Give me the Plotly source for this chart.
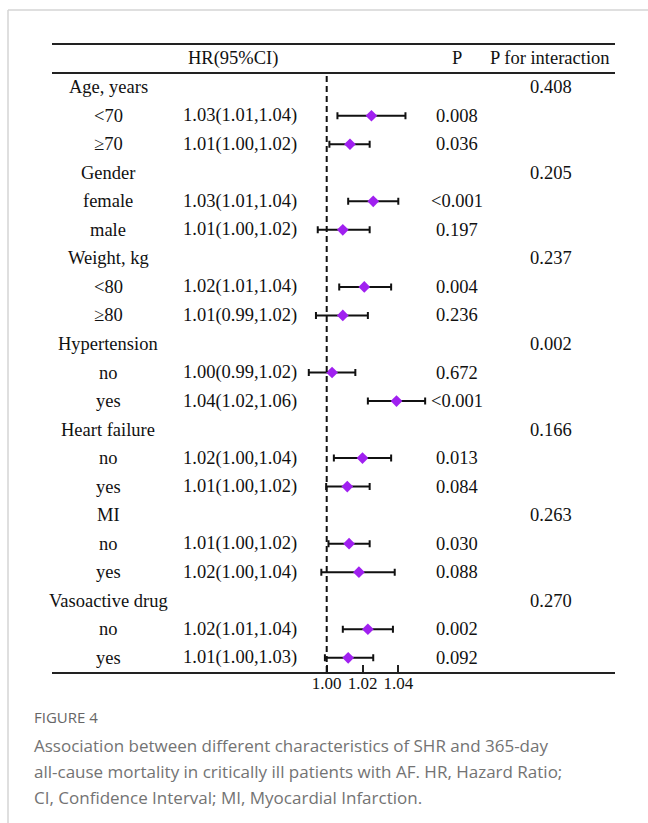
import plotly.graph_objects as go

W, H = 648, 823

# ---- data ----
row_labels = ["Age, years", "<70", "≥70", "Gender", "female", "male",
              "Weight, kg", "<80", "≥80", "Hypertension", "no", "yes",
              "Heart failure", "no", "yes", "MI", "no", "yes",
              "Vasoactive drug", "no", "yes"]
hr_text = ["", "1.03(1.01,1.04)", "1.01(1.00,1.02)", "", "1.03(1.01,1.04)", "1.01(1.00,1.02)",
           "", "1.02(1.01,1.04)", "1.01(0.99,1.02)", "", "1.00(0.99,1.02)", "1.04(1.02,1.06)",
           "", "1.02(1.00,1.04)", "1.01(1.00,1.02)", "", "1.01(1.00,1.02)", "1.02(1.00,1.04)",
           "", "1.02(1.01,1.04)", "1.01(1.00,1.03)"]
p_values = ["", "0.008", "0.036", "", "<0.001", "0.197",
            "", "0.004", "0.236", "", "0.672", "<0.001",
            "", "0.013", "0.084", "", "0.030", "0.088",
            "", "0.002", "0.092"]
p_interaction = ["0.408", "", "", "0.205", "", "",
                 "0.237", "", "", "0.002", "", "",
                 "0.166", "", "", "0.263", "", "",
                 "0.270", "", ""]
# point estimates and CI read from the drawn marks (None = header row)
hr = [None, 1.025, 1.013, None, 1.026, 1.009, None, 1.021, 1.009, None, 1.003, 1.039,
      None, 1.020, 1.0115, None, 1.0125, 1.018, None, 1.023, 1.012]
lo = [None, 1.006, 1.0015, None, 1.012, 0.995, None, 1.007, 0.994, None, 0.990, 1.023,
      None, 1.004, 0.9997, None, 1.001, 0.997, None, 1.009, 0.999]
hi = [None, 1.044, 1.024, None, 1.040, 1.024, None, 1.036, 1.023, None, 1.016, 1.055,
      None, 1.036, 1.024, None, 1.024, 1.038, None, 1.037, 1.026]
header = ["HR(95%CI)", "P", "P for interaction"]
x_ticks = [1.00, 1.02, 1.04]
x_ticklabels = ["1.00", "1.02", "1.04"]
caption_label = "FIGURE 4"
caption_lines = ["Association between different characteristics of SHR and 365-day",
                 "all-cause mortality in critically ill patients with AF. HR, Hazard Ratio;",
                 "CI, Confidence Interval; MI, Myocardial Infarction."]

# ---- layout geometry (pixels) ----
px = lambda x: x / W
py = lambda y: 1 - y / H
left_px, right_px = 52, 615
top_px, bottom_px = 44, 672
row0_px, row_step = 87.2, 28.53
ref_px, px_per_unit = 326.7, 1790.0

x_range = [1 - (ref_px - left_px) / px_per_unit, 1 + (right_px - ref_px) / px_per_unit]
y_range = [(bottom_px - row0_px) / row_step, (top_px - row0_px) / row_step]

serif = "Liberation Serif, Times New Roman, serif"
ink = "#111111"
fs = 18.5

idx = [i for i, v in enumerate(hr) if v is not None]
xs = [hr[i] for i in idx]
ys = [i for i in idx]
plus = [hi[i] - hr[i] for i in idx]
minus = [hr[i] - lo[i] for i in idx]

fig = go.Figure()
fig.add_trace(go.Scatter(
    x=xs, y=ys, mode="markers",
    marker=dict(symbol="diamond", size=9, color="#A020F0", line=dict(width=0)),
    error_x=dict(type="data", symmetric=False, array=plus, arrayminus=minus,
                 color="#111111", thickness=2, width=3.5),
    showlegend=False, hoverinfo="skip"))

shapes = []
# reference dashed line at HR = 1
shapes.append(dict(type="line", xref="x", yref="paper", x0=1.0, x1=1.0,
                   y0=py(bottom_px), y1=py(76), line=dict(color="#111111", width=2, dash="6px,4px")))
# table rules
for yy in (top_px, 73):
    shapes.append(dict(type="line", xref="paper", yref="paper", x0=px(left_px), x1=px(right_px),
                       y0=py(yy), y1=py(yy), line=dict(color="#222222", width=2)))
# page frame (top and left)
shapes.append(dict(type="line", xref="paper", yref="paper", x0=px(8), x1=1, y0=py(10), y1=py(10),
                   line=dict(color="#d4d4d4", width=1.5)))
shapes.append(dict(type="line", xref="paper", yref="paper", x0=px(8), x1=px(8), y0=py(10), y1=0,
                   line=dict(color="#d4d4d4", width=1.5)))

ann = []
def t(x, y, s, size=fs, xanchor="center", yref="y", color=ink, family=serif):
    ann.append(dict(x=x, y=y, xref="paper", yref=yref, text=s, showarrow=False,
                    xanchor=xanchor, yanchor="middle", font=dict(family=family, size=size, color=color)))

for i, lab in enumerate(row_labels):
    t(px(108), i, lab)
    if hr_text[i]:
        t(px(240), i, hr_text[i])
    if p_values[i]:
        t(px(457), i, p_values[i])
    if p_interaction[i]:
        t(px(551), i, p_interaction[i])
t(px(233), -1.02, header[0])
t(px(457), -1.02, header[1])
t(px(550), -1.02, header[2])

sans = "Open Sans, Lato, sans-serif"
t(px(32), py(717), caption_label, size=15, xanchor="left", yref="paper", color="#666666", family=sans)
for k, line in enumerate(caption_lines):
    t(px(32), py(745 + 26 * k), line, size=17, xanchor="left", yref="paper", color="#737373", family=sans)

fig.update_layout(
    width=W, height=H, margin=dict(l=0, r=0, t=0, b=0),
    paper_bgcolor="white", plot_bgcolor="white",
    xaxis=dict(domain=[px(left_px), px(right_px)], range=x_range, tickvals=x_ticks,
               ticktext=x_ticklabels, ticks="inside", ticklen=7, tickwidth=2, tickcolor="#222222",
               showline=True, linecolor="#222222", linewidth=2, showgrid=False, zeroline=False,
               ticklabelstandoff=-5,
               tickfont=dict(family=serif, size=17, color=ink)),
    yaxis=dict(domain=[py(bottom_px), py(top_px)], range=y_range, visible=False,
               showgrid=False, zeroline=False),
    shapes=shapes, annotations=ann)

fig.write_html("out.html", config={"displayModeBar": False},
               post_script="document.body.style.margin='0';document.body.style.overflow='hidden';")
